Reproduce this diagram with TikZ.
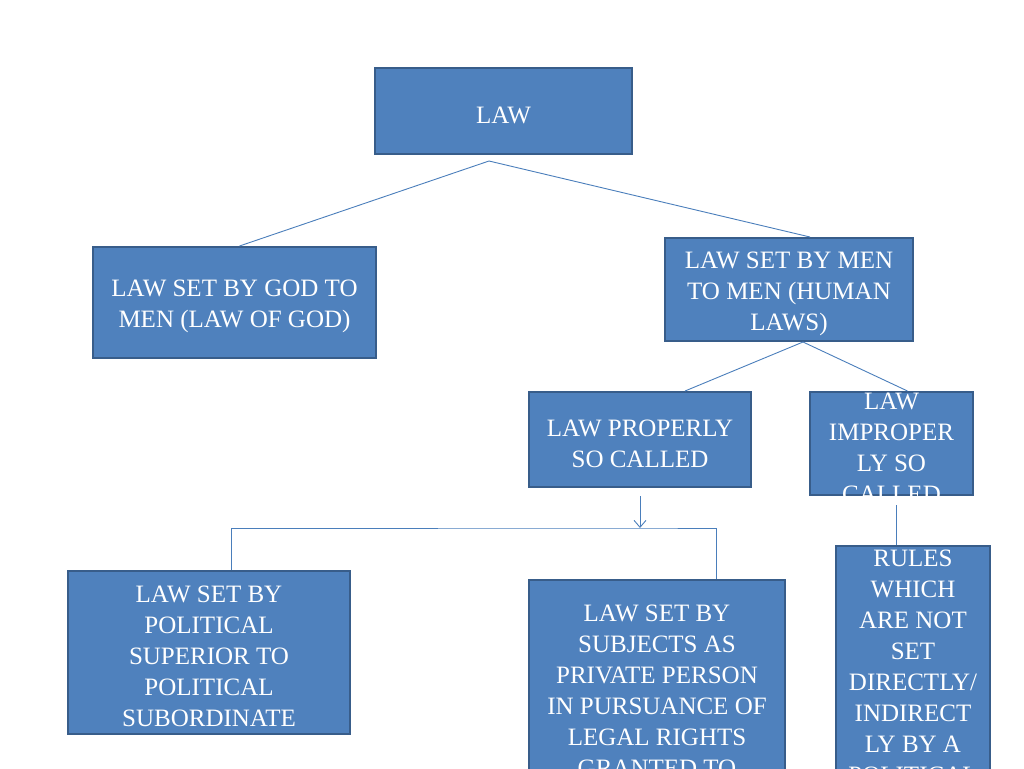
\documentclass[tikz,border=0pt]{standalone}
\usepackage{fontspec}
\setmainfont{Liberation Serif}
\usepackage{tikz}
\usetikzlibrary{arrows.meta,positioning}
\definecolor{boxfill}{HTML}{4F81BD}
\definecolor{boxline}{HTML}{385D8A}
\definecolor{linkcol}{HTML}{4A7EBB}

\begin{document}
\begin{tikzpicture}[x=1pt, y=-1pt, >=Latex,
  box/.style={draw=boxline, fill=boxfill, line width=2pt, rectangle, inner sep=0pt},
  txt/.style={text=white, align=center, inner sep=0pt, yshift=-4pt, font=\fontsize{25pt}{31pt}\selectfont},
  conn/.style={draw=linkcol, line width=0.9pt}]
  \useasboundingbox (0,0) rectangle (1024,768);
  % boxes
  \node[box, minimum width=257pt, minimum height=86pt] (law) at (503.5,111) {};
  \node[box, minimum width=283pt, minimum height=111pt] (god) at (234.5,302.5) {};
  \node[box, minimum width=248pt, minimum height=103pt] (men) at (789,289.5) {};
  \node[box, minimum width=222pt, minimum height=95pt] (prop) at (640,439.5) {};
  \node[box, minimum width=163pt, minimum height=103pt] (improp) at (891.5,443.5) {};
  \node[box, minimum width=282pt, minimum height=163pt] (pol) at (209,652.5) {};
  \node[box, minimum width=256pt, minimum height=230pt] (subj) at (657,695) {};
  \node[box, minimum width=154pt, minimum height=264pt] (rules) at (913,678) {};
  % texts
  \node[txt] (lawtxt) at (law) {LAW};
  \node[txt] (godtxt) at (god) {LAW SET BY GOD TO\\MEN (LAW OF GOD)};
  \node[txt] (mentxt) at (men) {LAW SET BY MEN\\TO MEN (HUMAN\\LAWS)};
  \node[txt] (proptxt) at (prop) {LAW PROPERLY\\SO CALLED};
  \node[txt] (improptxt) at (improp) {LAW\\IMPROPER\\LY SO\\CALLED};
  \node[txt] (poltxt) at (pol) {LAW SET BY\\POLITICAL\\SUPERIOR TO\\POLITICAL\\SUBORDINATE};
  \node[txt, anchor=north] (subjtxt) at (657,601) {LAW SET BY\\SUBJECTS AS\\PRIVATE PERSON\\IN PURSUANCE OF\\LEGAL RIGHTS\\GRANTED TO};
  \node[txt, anchor=north] (rulestxt) at (913,546) {RULES\\WHICH\\ARE NOT\\SET\\DIRECTLY/\\INDIRECT\\LY BY A\\POLITICAL};
  % links
  \coordinate (apex) at (489,161);
  \coordinate (fork) at (640,528);
  \draw[conn] (apex) -- ([xshift=5pt]god.north);
  \draw[conn] (apex) -- ([xshift=21pt]men.north);
  \draw[conn] ([xshift=14pt]men.south) -- ([xshift=45pt]prop.north);
  \draw[conn] ([xshift=14pt]men.south) -- ([xshift=16pt]improp.north);
  \draw[conn, -{Straight Barb[length=7pt, width=12pt]}] ([yshift=-8pt]prop.south) -- (fork);
  \draw[conn] ([xshift=22pt]pol.north) |- (fork) -| ([xshift=59pt]subj.north);
  \draw[conn] ([xshift=4.5pt, yshift=-9pt]improp.south) -- ([xshift=-17pt]rules.north);
\end{tikzpicture}
\end{document}
